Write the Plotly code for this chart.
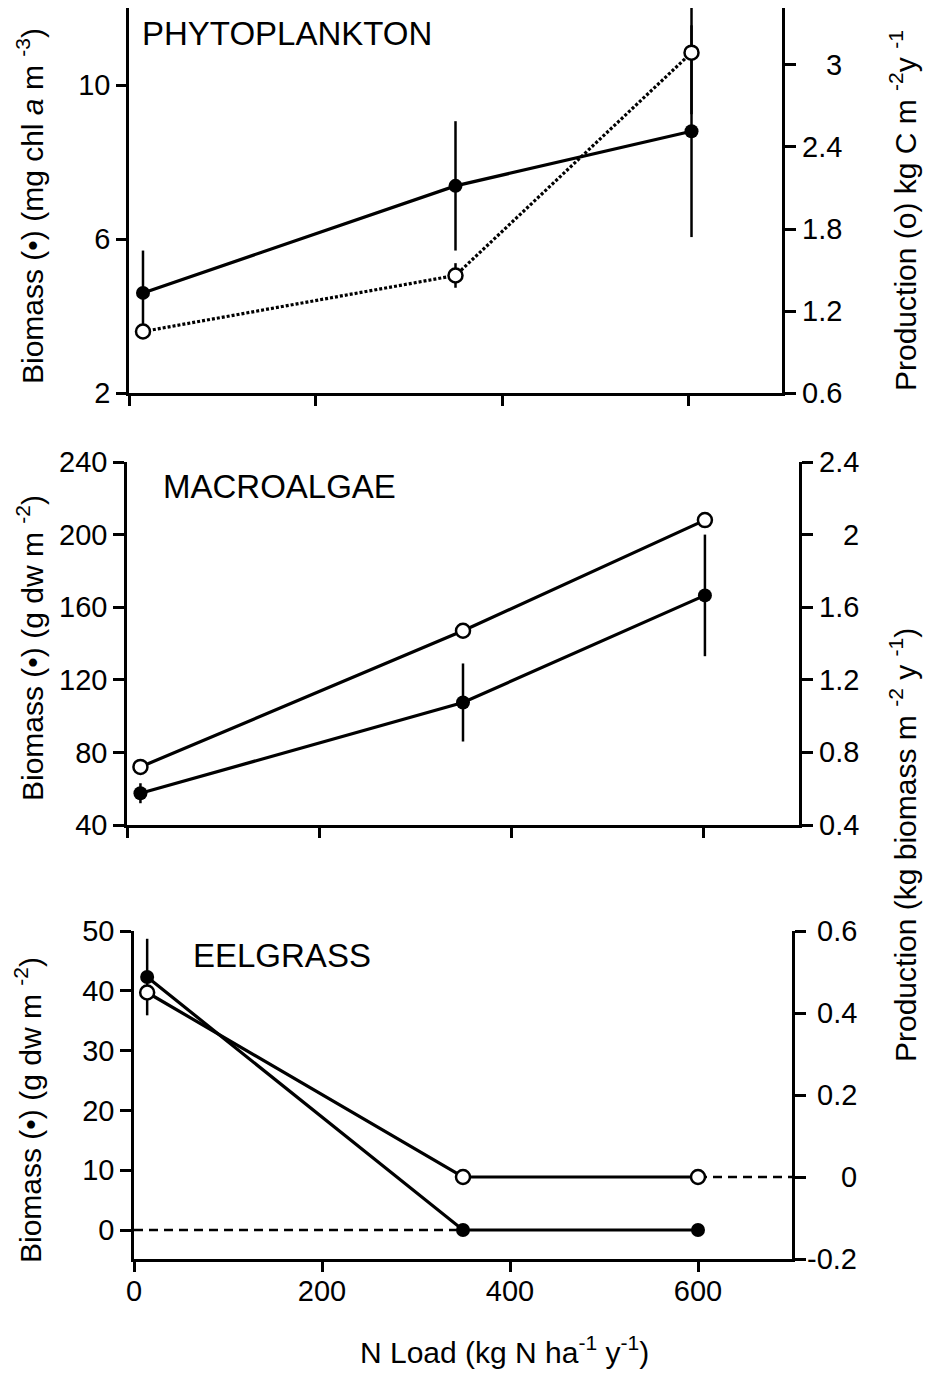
import plotly.graph_objects as go

W, H = 925, 1373

# ---------------- data ----------------
# Phytoplankton
phyto_x = [15, 350, 603]
phyto_biomass = [4.6, 7.38, 8.8]
phyto_biomass_err = [1.1, 1.68, 2.75]
phyto_prod = [1.05, 1.46, 3.09]
phyto_prod_err = [0.0, 0.09, 0.45]

# Macroalgae
macro_x = [14, 350, 602]
macro_biomass = [57.5, 107.5, 166.5]
macro_biomass_err = [5.5, 21.5, 33.5]
macro_prod = [0.72, 1.47, 2.08]

# Eelgrass
eel_x = [14, 350, 600]
eel_biomass = [42.3, 0.0, 0.0]
eel_biomass_err = [6.4, 0.0, 0.0]
eel_prod = [0.45, 0.0, 0.0]
eel_zero_biomass_x = [0, 350]
eel_zero_biomass_y = [0, 0]
eel_zero_prod_x = [600, 700]
eel_zero_prod_y = [0, 0]

# Axis ticks
x_ticks = [0, 200, 400, 600]
phyto_left_ticks = [2, 6, 10]
phyto_right_ticks = [0.6, 1.2, 1.8, 2.4, 3]
phyto_right_labels = ["0.6", "1.2", "1.8", "2.4", "3"]
macro_left_ticks = [40, 80, 120, 160, 200, 240]
macro_right_ticks = [0.4, 0.8, 1.2, 1.6, 2.0, 2.4]
macro_right_labels = ["0.4", "0.8", "1.2", "1.6", "2", "2.4"]
eel_left_ticks = [0, 10, 20, 30, 40, 50]
eel_right_ticks = [-0.2, 0, 0.2, 0.4, 0.6]
eel_right_labels = ["-0.2", "0", "0.2", "0.4", "0.6"]

FONT = "Liberation Sans, Arial, sans-serif"
TICKF = 29
TITLEF = 30
PANELF = 33

def px_x(p):
    return p / W

def px_y(p):
    return 1 - p / H

fig = go.Figure()

def filled(x, y, err, xa, ya):
    fig.add_trace(go.Scatter(
        x=x, y=y, xaxis=xa, yaxis=ya, mode="lines+markers",
        line=dict(color="black", width=3.2),
        marker=dict(symbol="circle", size=14, color="black"),
        error_y=dict(type="data", array=err, visible=True, color="black",
                     thickness=2.5, width=0) if err is not None else None,
        showlegend=False, hoverinfo="skip"))

def hollow(x, y, err, xa, ya, dash="solid"):
    fig.add_trace(go.Scatter(
        x=x, y=y, xaxis=xa, yaxis=ya, mode="lines+markers",
        line=dict(color="black", width=3.2, dash=dash),
        marker=dict(symbol="circle", size=14, color="white",
                    line=dict(color="black", width=2.5)),
        error_y=dict(type="data", array=err, visible=True, color="black",
                     thickness=2.5, width=0) if err is not None else None,
        showlegend=False, hoverinfo="skip"))

def dashed(x, y, xa, ya):
    fig.add_trace(go.Scatter(
        x=x, y=y, xaxis=xa, yaxis=ya, mode="lines",
        line=dict(color="black", width=2.5, dash="9px,6px"),
        showlegend=False, hoverinfo="skip"))

# Top panel
filled(phyto_x, phyto_biomass, phyto_biomass_err, "x", "y")
hollow(phyto_x, phyto_prod, phyto_prod_err, "x", "y2", dash="3px,2px")
# Middle panel
filled(macro_x, macro_biomass, macro_biomass_err, "x2", "y3")
hollow(macro_x, macro_prod, None, "x2", "y4")
# Bottom panel
dashed(eel_zero_biomass_x, eel_zero_biomass_y, "x3", "y5")
filled(eel_x, eel_biomass, eel_biomass_err, "x3", "y5")
dashed(eel_zero_prod_x, eel_zero_prod_y, "x3", "y6")
hollow(eel_x, eel_prod, None, "x3", "y6")

axis_common = dict(showline=True, linecolor="black", linewidth=2.5,
                   ticks="outside", tickwidth=2.5, tickcolor="black",
                   showgrid=False, zeroline=False, automargin=False,
                   tickfont=dict(family=FONT, size=TICKF, color="black"))

# panel pixel boxes: (left, right, top, bottom)
top_box = (129, 782, 8, 393)
mid_box = (127, 799, 462, 825)
bot_box = (134, 792, 931, 1259)

def xdom(b):
    return [px_x(b[0]), px_x(b[1])]

def ydom(b):
    return [px_y(b[3]), px_y(b[2])]

layout = dict(
    template="none",
    width=W, height=H, margin=dict(l=0, r=0, t=0, b=0, pad=0, autoexpand=False),
    paper_bgcolor="white", plot_bgcolor="rgba(0,0,0,0)",
    showlegend=False,
    font=dict(family=FONT, color="black"),
)

layout["xaxis"] = dict(axis_common, domain=xdom(top_box), range=[0, 700], anchor="y",
                       tickvals=x_ticks, ticklen=10, showticklabels=False)
layout["yaxis"] = dict(axis_common, domain=ydom(top_box), range=[2, 12], anchor="x",
                       tickvals=phyto_left_ticks, ticklen=10, side="left")
layout["yaxis2"] = dict(axis_common, overlaying="y", range=[0.6, 3.417], anchor="x",
                        tickvals=phyto_right_ticks, ticklen=11, side="right",
                        showticklabels=False)

layout["xaxis2"] = dict(axis_common, domain=xdom(mid_box), range=[0, 700], anchor="y3",
                        tickvals=x_ticks, ticklen=10, showticklabels=False)
layout["yaxis3"] = dict(axis_common, domain=ydom(mid_box), range=[40, 240], anchor="x2",
                        tickvals=macro_left_ticks, ticklen=11, side="left")
layout["yaxis4"] = dict(axis_common, overlaying="y3", range=[0.4, 2.4], anchor="x2",
                        tickvals=macro_right_ticks, ticklen=11, side="right",
                        showticklabels=False)

layout["xaxis3"] = dict(axis_common, domain=xdom(bot_box), range=[0, 700], anchor="y5",
                        tickvals=x_ticks, ticklen=10, showticklabels=True,
                        ticklabelstandoff=-6)
layout["yaxis5"] = dict(axis_common, domain=ydom(bot_box), range=[-4.85, 50], anchor="x3",
                        tickvals=eel_left_ticks, ticklen=11, side="left")
layout["yaxis6"] = dict(axis_common, overlaying="y5", range=[-0.2, 0.6], anchor="x3",
                        tickvals=eel_right_ticks, ticklen=11, side="right",
                        showticklabels=False)

fig.update_layout(**layout)

ann = []
# right tick labels (right-aligned)
for vals, labs, yref, xr in [(phyto_right_ticks, phyto_right_labels, "y2", 844),
                             (macro_right_ticks, macro_right_labels, "y4", 861),
                             (eel_right_ticks, eel_right_labels, "y6", 859)]:
    for v, l in zip(vals, labs):
        ann.append(dict(x=px_x(xr), xref="paper", y=v, yref=yref, text=l,
                        showarrow=False, xanchor="right", yanchor="middle",
                        font=dict(family=FONT, size=TICKF, color="black")))

# left titles
ann.append(dict(x=px_x(30), y=px_y(206), xref="paper", yref="paper",
                text="Biomass (\u2022) (mg chl <i>a</i> m <sup>-3</sup>)", textangle=-90,
                showarrow=False, xanchor="center", yanchor="middle",
                font=dict(family=FONT, size=TITLEF, color="black")))
ann.append(dict(x=px_x(30), y=px_y(648), xref="paper", yref="paper",
                text="Biomass (\u2022) (g dw m <sup>-2</sup>)", textangle=-90,
                showarrow=False, xanchor="center", yanchor="middle",
                font=dict(family=FONT, size=TITLEF, color="black")))
ann.append(dict(x=px_x(28), y=px_y(1110), xref="paper", yref="paper",
                text="Biomass (\u2022) (g dw m <sup>-2</sup>)", textangle=-90,
                showarrow=False, xanchor="center", yanchor="middle",
                font=dict(family=FONT, size=TITLEF, color="black")))
# right titles
ann.append(dict(x=px_x(903), y=px_y(211), xref="paper", yref="paper",
                text="Production (o) kg C m <sup>-2</sup>y <sup>-1</sup>", textangle=-90,
                showarrow=False, xanchor="center", yanchor="middle",
                font=dict(family=FONT, size=TITLEF, color="black")))
ann.append(dict(x=px_x(903), y=px_y(845), xref="paper", yref="paper",
                text="Production (kg biomass m <sup>-2</sup> y <sup>-1</sup>)", textangle=-90,
                showarrow=False, xanchor="center", yanchor="middle",
                font=dict(family=FONT, size=TITLEF, color="black")))
# x title
ann.append(dict(x=px_x(504), y=px_y(1350), xref="paper", yref="paper",
                text="N Load (kg N ha<sup>-1</sup> y<sup>-1</sup>)",
                showarrow=False, xanchor="center", yanchor="middle",
                font=dict(family=FONT, size=TITLEF, color="black")))
# panel labels
for txt, xl, yc in [("PHYTOPLANKTON", 140, 34), ("MACROALGAE", 161, 486), ("EELGRASS", 191, 955)]:
    ann.append(dict(x=px_x(xl), y=px_y(yc), xref="paper", yref="paper", text=txt,
                    showarrow=False, xanchor="left", yanchor="middle",
                    font=dict(family=FONT, size=PANELF, color="black")))

fig.update_layout(annotations=ann)
fig.write_html("out.html")
